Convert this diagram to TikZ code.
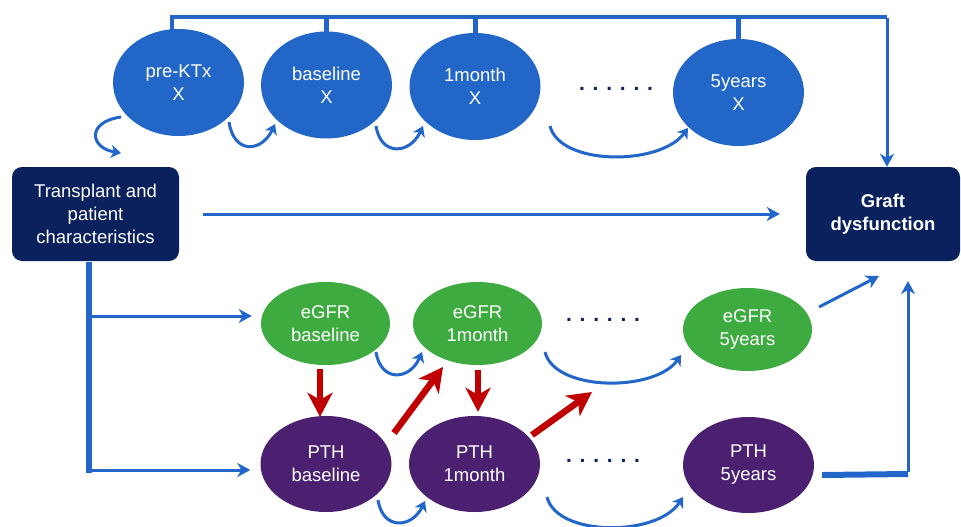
\documentclass[tikz,border=0pt]{standalone}
\usepackage{fontspec}
\setmainfont{Liberation Sans}
\usetikzlibrary{arrows.meta,shapes.geometric}
\definecolor{ellblue}{HTML}{2266C8}
\definecolor{arrblue}{HTML}{2266CC}
\definecolor{navy}{HTML}{0B215E}
\definecolor{grn}{HTML}{3DAB3F}
\definecolor{purp}{HTML}{4B2070}
\definecolor{dred}{HTML}{C00000}
\tikzset{
  ell/.style={ellipse, inner sep=0pt, minimum width=131pt, text=white, align=center,
    font=\fontsize{18.5}{23}\selectfont},
  xell/.style={ell, fill=ellblue, minimum height=107pt},
  gell/.style={ell, fill=grn, minimum width=129pt, minimum height=83pt},
  pell/.style={ell, fill=purp, minimum height=96pt},
  boxn/.style={rectangle, rounded corners=10pt, fill=navy, text=white, align=center,
    minimum height=94pt, inner sep=0pt, font=\fontsize{18.5}{23}\selectfont},
  dotsn/.style={anchor=base, text=navy, inner sep=0pt, font=\fontsize{21}{21}\bfseries},
  bar/.style={draw=arrblue, line width=4.5pt},
  barrow/.style={draw=arrblue, line width=3pt, -{Stealth[length=13pt,width=14pt,inset=4pt]}},
  curv/.style={draw=arrblue, line width=3pt, -{Stealth[length=10pt,width=13pt,inset=3pt]}},
  redarrow/.style={draw=dred, line width=6.5pt, -{Stealth[length=24pt,width=25pt,inset=7pt]}},
}
\begin{document}
\begin{tikzpicture}[x=1pt,y=-1pt]
\useasboundingbox (0,0) rectangle (961,527);

% top row
\node[xell] (pre) at (178.5,82.5) {pre-KTx\\X};
\node[xell] (base) at (326.5,85) {baseline\\X};
\node[xell] (m1) at (475,86.5) {1month\\X};
\node[xell] (y5) at (738.5,92.5) {5years\\X};
\node[dotsn] (dt) at (616,90) {. . . . . .};

% boxes
\node[boxn, minimum width=167pt] (tp) at (95.5,214) {Transplant and\\patient\\characteristics};
\node[boxn, minimum width=154pt, font=\fontsize{18.5}{23}\selectfont\bfseries] (graft) at (883,214) {Graft\\dysfunction};

% bottom rows
\node[gell] (eb) at (325.5,323.5) {eGFR\\baseline};
\node[gell] (e1) at (477.5,323.5) {eGFR\\1month};
\node[gell] (e5) at (747.5,329.5) {eGFR\\5years};
\node[pell] (pb) at (326,464) {PTH\\baseline};
\node[pell] (p1) at (474.5,464) {PTH\\1month};
\node[pell] (p5) at (748.5,465) {PTH\\5years};
\node[dotsn] (de) at (603,321) {. . . . . .};
\node[dotsn] (dp) at (603,462) {. . . . . .};

% top bracket
\coordinate (tl) at (172,17);
\coordinate (tr) at (887,17);
\draw[bar] ([xshift=-6.5pt,yshift=-2pt]pre.north) -- (tl) -- (tr);
\draw[bar, line width=5pt] ([yshift=-2pt]base.north) -- (base.north |- tr);
\draw[bar, line width=5pt] ([yshift=-2pt]m1.north) -- (m1.north |- tr);
\draw[bar, line width=5pt] ([yshift=-2pt]y5.north) -- (y5.north |- tr);
\draw[barrow] ([yshift=-1pt]tr) -- (tr |- graft.north);

% middle arrow
\draw[barrow] ([xshift=24pt]tp.east) -- ([xshift=-26pt]graft.west);

% trunk
\coordinate (t0) at (89,262);
\coordinate (t1) at (89,316);
\coordinate (t2) at (89,470);
\draw[draw=arrblue, line width=6pt] (t0) -- (89,473);
\draw[barrow] (t1) -- ([xshift=-9pt]eb.west |- t1);
\draw[barrow] (t2) -- ([xshift=-10pt]pb.west |- t2);

% curved arrows
\draw[curv] (121,117) .. controls (86,122) and (90,148) .. (121,153);
\draw[curv] (229,122) .. controls (234,155) and (262,152) .. (275,124);
\draw[curv] (376,126) .. controls (381,157) and (410,154) .. (423,126);
\draw[curv] (550,126) .. controls (560,166) and (660,166) .. (688,128);
\draw[curv] (376,352) .. controls (381,383) and (410,380) .. (422,352);
\draw[curv] (378,500) .. controls (383,531) and (412,528) .. (425,501);
\draw[curv] (545,352) .. controls (555,392) and (655,392) .. (681,355);
\draw[curv] (547,497) .. controls (557,537) and (657,537) .. (683,497);

% red arrows
\coordinate (r4) at (592,392);
\draw[redarrow] ([yshift=-4pt]eb.south -| 320,0) -- ([yshift=-1pt]pb.north -| 320,0);
\draw[redarrow] (394,433) -- (443,367);
\draw[redarrow] (478,370) -- ([yshift=4pt]p1.north -| 478,0);
\draw[redarrow] (532,435) -- (r4);

% to graft
\coordinate (g1) at (879,276);
\draw[barrow] (819,307) -- (g1);
\coordinate (g2) at (908,474);
\draw[draw=arrblue, line width=6pt] ([xshift=8pt,yshift=-10pt]p5.east) -- (g2);
\draw[barrow] ([yshift=2pt]g2) -- (908,281);
\end{tikzpicture}
\end{document}
